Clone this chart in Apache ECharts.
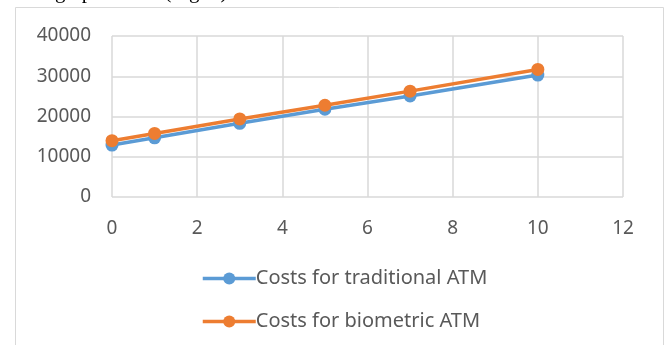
<!DOCTYPE html>
<html>
<head>
<meta charset="utf-8">
<script src="https://cdn.jsdelivr.net/npm/echarts@6/dist/echarts.min.js"></script>
<style>html,body{margin:0;padding:0;background:#fff;}#c{width:668px;height:345px;}</style>
</head>
<body>
<div id="c"></div>
<script>
const years = [0, 1, 3, 5, 7, 10];
const traditionalCosts = [12900, 14700, 18300, 21800, 25100, 30300];
const biometricCosts = [14000, 15800, 19400, 22800, 26300, 31700];
const seriesNames = ['Costs for traditional ATM', 'Costs for biometric ATM'];

const chart = echarts.init(document.getElementById('c'), null, {renderer: 'canvas'});
const labelStyle = {color: '#595959', fontSize: 19, fontFamily: 'Noto Sans'};
chart.setOption({
  animation: false,
  backgroundColor: '#fff',
  graphic: [
    {type: 'rect', shape: {x: 15.5, y: 7.5, width: 648, height: 360}, style: {fill: 'none', stroke: '#d9d9d9', lineWidth: 1}, z: -1},
    {type: 'text', left: 24, top: -18, style: {text: 'the graph below (Fig. 6).', font: '21px "Liberation Serif"', fill: '#000'}}
  ],
  grid: {left: 112, top: 36, right: 45, bottom: 148},
  xAxis: {
    type: 'value', min: 0, max: 12, interval: 2,
    axisLine: {show: false}, axisTick: {show: false},
    splitLine: {show: true, lineStyle: {color: '#d9d9d9', width: 1.5}},
    axisLabel: Object.assign({margin: 22, formatter: v => String(v)}, labelStyle)
  },
  yAxis: {
    type: 'value', min: 0, max: 40000, interval: 10000,
    axisLine: {show: false}, axisTick: {show: false},
    splitLine: {show: true, lineStyle: {color: '#d9d9d9', width: 1.5}},
    axisLabel: Object.assign({margin: 21, formatter: v => String(v)}, labelStyle)
  },
  legend: {
    orient: 'vertical', left: 196, top: 263,
    itemWidth: 53, itemHeight: 15, itemGap: 22,
    lineStyle: {width: 3.5},
    textStyle: {color: '#595959', fontSize: 20, fontFamily: 'Noto Sans', lineHeight: 21, padding: [0, 0, 0, -5]},
    data: seriesNames
  },
  series: [
    {
      name: seriesNames[0], type: 'line',
      data: years.map((x, i) => [x, traditionalCosts[i]]),
      symbol: 'circle', symbolSize: 13,
      lineStyle: {color: '#5B9BD5', width: 3.5},
      itemStyle: {color: '#5B9BD5'}
    },
    {
      name: seriesNames[1], type: 'line',
      data: years.map((x, i) => [x, biometricCosts[i]]),
      symbol: 'circle', symbolSize: 13,
      lineStyle: {color: '#ED7D31', width: 3.5},
      itemStyle: {color: '#ED7D31'}
    }
  ]
});
</script>
</body>
</html>
